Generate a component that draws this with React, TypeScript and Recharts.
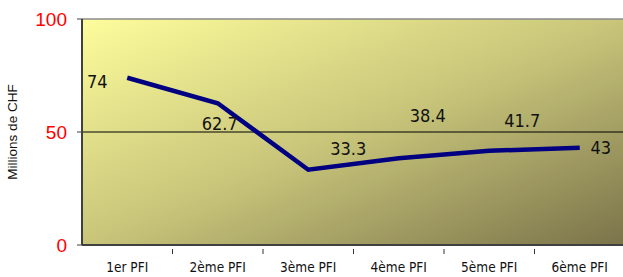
import React from 'react'
import { LineChart, Line, XAxis, YAxis, ReferenceLine, LabelList, CartesianGrid } from 'recharts'

const categories = ['1er PFI', '2ème PFI', '3ème PFI', '4ème PFI', '5ème PFI', '6ème PFI']
const amounts = [74, 62.7, 33.3, 38.4, 41.7, 43]
const yTicks = [0, 50, 100]

const data = categories.map((name, i) => ({ name, value: amounts[i] }))

// where Excel put each value label, relative to its point
const labelShift = [
  [-30, 4],
  [2, 20],
  [40, -21],
  [29, -43],
  [33, -30],
  [21, 0],
]

const ValueLabel = (props: any) => {
  const { x, y, value, index } = props
  const [dx, dy] = labelShift[index] || [0, 0]
  return (
    <text
      x={x + dx}
      y={y + dy}
      textAnchor="middle"
      dominantBaseline="central"
      fontFamily="'DejaVu Sans Condensed', 'DejaVu Sans', sans-serif"
      fontSize={18}
      fill="#111"
    >
      {value}
    </text>
  )
}

const CategoryTick = (props: any) => {
  const { x, y, payload, index } = props
  const half = payload.offset || 0
  return (
    <g>
      {index > 0 && <line x1={x - half} x2={x - half} y1={y - 4} y2={y + 1} stroke="#333" />}
      <text
        x={x}
        y={y + 19}
        textAnchor="middle"
        fontFamily="'DejaVu Sans Condensed', sans-serif"
        fontSize={13.5}
        fill="#111"
      >
        {payload.value}
      </text>
    </g>
  )
}

export default function App() {
  return (
    <div style={{ position: 'absolute', left: 0, top: 0, width: 623, height: 277, overflow: 'hidden', background: '#fff' }}>
      <LineChart width={640} height={277} data={data} margin={{ top: 19, right: 15, left: 0, bottom: 0 }}>
        <defs>
          <linearGradient id="plotBg" x1="0" y1="0" x2="1" y2="1">
            <stop offset="0%" stopColor="#fdfd9c" />
            <stop offset="50%" stopColor="#c8c57a" />
            <stop offset="100%" stopColor="#7a734a" />
          </linearGradient>
        </defs>
        <CartesianGrid fill="url(#plotBg)" horizontal={false} vertical={false} />
        <XAxis
          dataKey="name"
          scale="band"
          height={32}
          axisLine={{ stroke: '#404040', strokeWidth: 2 }}
          tickLine={false}
          interval={0}
          tick={<CategoryTick />}
        />
        <YAxis
          domain={[0, 100]}
          ticks={yTicks}
          width={82}
          axisLine={{ stroke: '#404040', strokeWidth: 2 }}
          tickLine={{ stroke: '#404040' }}
          tickSize={5}
          tickMargin={10}
          tick={{ fill: '#ff0000', fontSize: 19, fontFamily: 'Liberation Sans, Arial, sans-serif' }}
          label={{
            value: 'Millions de CHF',
            angle: -90,
            position: 'insideLeft',
            offset: 12,
            style: { textAnchor: 'middle', fontSize: 13.5, fontFamily: 'Liberation Sans, Arial, sans-serif', fill: '#111' },
          }}
        />
        <ReferenceLine y={100} stroke="#8a8a8a" strokeWidth={1.5} />
        <ReferenceLine y={50} stroke="#000" strokeWidth={1} />
        <Line
          type="linear"
          dataKey="value"
          stroke="#000080"
          strokeWidth={4.5}
          dot={false}
          activeDot={false}
          isAnimationActive={false}
        >
          <LabelList dataKey="value" content={<ValueLabel />} />
        </Line>
      </LineChart>
    </div>
  )
}
